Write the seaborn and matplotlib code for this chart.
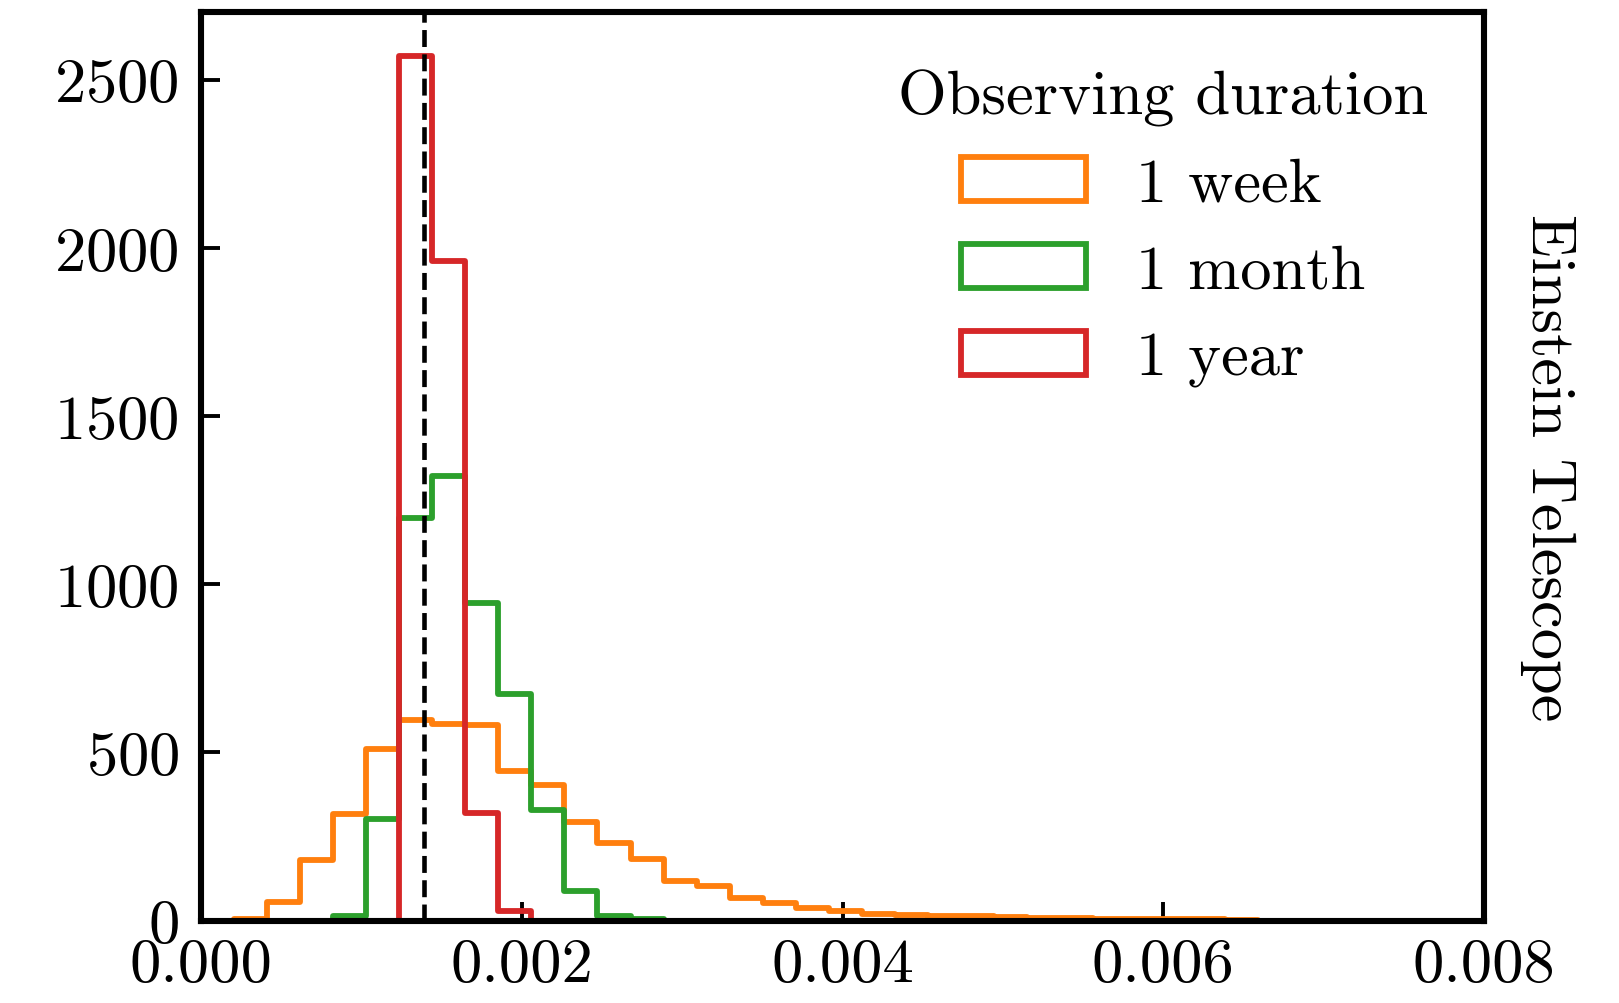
import numpy as np
import pandas as pd
import matplotlib
matplotlib.use("Agg")
import matplotlib.pyplot as plt
from matplotlib.patches import Patch
from matplotlib.ticker import FormatStrFormatter
import seaborn as sns

# Histogram counts, one value per bin
bin_width = 0.000206
n_bins = 39

week_counts = [0, 5, 55, 181, 317, 510, 596, 584, 581, 445,
               403, 292, 230, 183, 118, 104, 67, 51, 37, 27,
               20, 16, 14, 13, 10, 8, 8, 6, 6, 4,
               4, 3, 0, 0, 0, 0, 0, 0, 0]
month_counts = [0, 0, 0, 0, 15, 302, 1198, 1321, 943, 673,
                329, 88, 15, 4] + [0] * 25
year_counts = [0, 0, 0, 0, 0, 0, 2571, 1960, 319, 29] + [0] * 29

labels = ["1 week", "1 month", "1 year"]
colors = ["#ff7f0e", "#2ca02c", "#d62728"]
true_value = 0.00139

sns.set_style("ticks")
plt.rcParams["font.family"] = ["cmr10", "DejaVu Serif"]
plt.rcParams["mathtext.fontset"] = "cm"
plt.rcParams["axes.formatter.use_mathtext"] = True
plt.rcParams["axes.unicode_minus"] = False
for key in ["text.color", "axes.labelcolor", "xtick.color", "ytick.color", "axes.edgecolor"]:
    plt.rcParams[key] = "black"

edges = np.arange(n_bins + 1) * bin_width
centers = edges[:-1] + bin_width / 2

fig = plt.figure(figsize=(16.19, 10.04), dpi=100)
ax = fig.add_axes([0.1242, 0.0821, 0.7924, 0.9046])

lw = 4.2
for label, counts, color in zip(labels, [week_counts, month_counts, year_counts], colors):
    df = pd.DataFrame({"value": centers, "count": counts})
    sns.histplot(data=df, x="value", weights="count", bins=list(edges),
                 element="step", fill=False, color=color, linewidth=lw, ax=ax)

ax.axvline(true_value, color="k", linestyle="--", linewidth=3.3)

ax.set_xlim(0, 0.008)
ax.set_ylim(0, 2700)
ax.set_xticks([0, 0.002, 0.004, 0.006, 0.008])
ax.set_yticks([0, 500, 1000, 1500, 2000, 2500])
ax.xaxis.set_major_formatter(FormatStrFormatter("%.3f"))
ax.set_xlabel("")
ax.set_ylabel("")
ax.tick_params(direction="in", length=14, width=2.8, labelsize=45,
               bottom=True, left=True, top=False, right=False, color="black")
ax.tick_params(axis="x", pad=12)
ax.tick_params(axis="y", pad=16)
for spine in ax.spines.values():
    spine.set_visible(True)
    spine.set_linewidth(4.4)
    spine.set_color("black")

handles = [Patch(facecolor="none", edgecolor=c, linewidth=lw) for c in colors]
ax.legend(handles, labels, title="Observing duration", loc="upper right",
          frameon=False, fontsize=45, title_fontsize=45)

ax.text(1.05, 0.5, "Einstein Telescope", rotation=270, va="center", ha="center",
        fontsize=45, transform=ax.transAxes)

fig.savefig("out.png", dpi=100)
